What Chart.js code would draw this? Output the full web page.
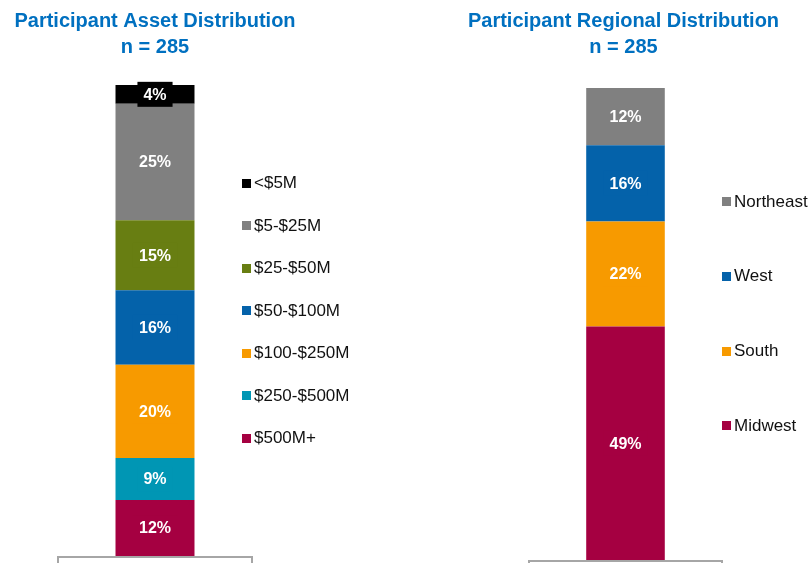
<!DOCTYPE html>
<html>
<head>
<meta charset="utf-8">
<script src="https://cdn.jsdelivr.net/npm/chart.js@4"></script>
<style>
  html, body { margin: 0; padding: 0; background: #ffffff; }
  #wrap { position: relative; width: 809px; height: 563px; overflow: hidden; }
  canvas { position: absolute; top: 0; }
  .legend { position: absolute; font-family: "Liberation Sans", Arial, sans-serif; font-size: 17px; color: #111; }
  .item { position: absolute; white-space: nowrap; display: flex; align-items: center; height: 20px; }
  .sw { width: 9px; height: 9px; display: inline-block; }
</style>
</head>
<body>
<div id="wrap">
  <canvas id="c1" width="404" height="563" style="left:0"></canvas>
  <canvas id="c2" width="405" height="563" style="left:404px"></canvas>
  <div id="leg1" class="legend"></div>
  <div id="leg2" class="legend"></div>
</div>
<script>
// ---- Data (bottom of stack to top) ----
const assetCategories = ['$500M+', '$250-$500M', '$100-$250M', '$50-$100M', '$25-$50M', '$5-$25M', '<$5M'];
const assetValues = [12, 9, 20, 16, 15, 25, 4];
const assetColors = ['#A50041', '#0096B4', '#F79A00', '#0462AA', '#687E12', '#808080', '#000000'];

const regionCategories = ['Midwest', 'South', 'West', 'Northeast'];
const regionValues = [49, 22, 16, 12];
const regionColors = ['#A50041', '#F79A00', '#0462AA', '#808080'];

const assetTitle = ['Participant Asset Distribution', 'n = 285'];
const regionTitle = ['Participant Regional Distribution', 'n = 285'];

const FONT = "'Liberation Sans', Arial, sans-serif";

const labelPlugin = {
  id: 'segLabels',
  afterDatasetsDraw(chart) {
    const ctx = chart.ctx;
    ctx.save();
    ctx.font = 'bold 16px ' + FONT;
    ctx.textAlign = 'center';
    ctx.textBaseline = 'middle';
    chart.data.datasets.forEach((ds, i) => {
      const el = chart.getDatasetMeta(i).data[0];
      const cy = (el.y + el.base) / 2;
      const txt = ds.data[0] + '%';
      const w = ctx.measureText(txt).width + 12;
      ctx.fillStyle = ds.backgroundColor;
      ctx.fillRect(el.x - w / 2, cy - 12.5, w, 25);
      ctx.fillStyle = '#ffffff';
      ctx.fillText(txt, el.x, cy + 1);
    });
    ctx.restore();
  }
};

const boxPlugin = {
  id: 'axisBox',
  afterDraw(chart) {
    const a = chart.chartArea;
    const ctx = chart.ctx;
    ctx.save();
    ctx.strokeStyle = '#A6A6A6';
    ctx.lineWidth = 2;
    ctx.strokeRect(a.left + 1, a.bottom + 1, a.right - a.left - 2, 40);
    ctx.restore();
  }
};

const titlePlugin = {
  id: 'twoLineTitle',
  afterDraw(chart, args, opts) {
    const a = chart.chartArea;
    const ctx = chart.ctx;
    ctx.save();
    ctx.font = 'bold 20px ' + FONT;
    ctx.fillStyle = '#0070C0';
    ctx.textAlign = 'center';
    ctx.textBaseline = 'alphabetic';
    const cx = (a.left + a.right) / 2 + (opts.dx || 0);
    opts.lines.forEach((line, k) => ctx.fillText(line, cx, 27 + k * 25.8));
    ctx.restore();
  }
};

function makeChart(id, cats, vals, colors, title, pad, dx) {
  const total = vals.reduce((s, v) => s + v, 0);
  return new Chart(document.getElementById(id), {
    type: 'bar',
    data: {
      labels: [''],
      datasets: cats.map((c, i) => ({
        label: c,
        data: [vals[i]],
        backgroundColor: colors[i],
        borderWidth: 0,
        barPercentage: 0.403,
        categoryPercentage: 1
      }))
    },
    options: {
      responsive: false,
      animation: false,
      devicePixelRatio: 1,
      layout: { padding: pad },
      plugins: {
        legend: { display: false },
        tooltip: { enabled: false },
        title: { display: false },
        twoLineTitle: { lines: title, dx: dx }
      },
      scales: {
        x: { display: false, stacked: true },
        y: { display: false, stacked: true, min: 0, max: total }
      }
    },
    plugins: [labelPlugin, boxPlugin, titlePlugin]
  });
}

makeChart('c1', assetCategories, assetValues, assetColors, assetTitle,
  { top: 85, left: 57, right: 151, bottom: 7 }, 0);
makeChart('c2', regionCategories, regionValues, regionColors, regionTitle,
  { top: 88, left: 124, right: 86, bottom: 3 }, -2);

function buildLegend(elId, cats, colors, x, y0, step) {
  const el = document.getElementById(elId);
  const n = cats.length;
  for (let k = 0; k < n; k++) {
    const i = n - 1 - k; // top of stack first
    const it = document.createElement('div');
    it.className = 'item';
    it.style.left = x + 'px';
    it.style.top = (y0 + k * step - 10) + 'px';
    const sw = document.createElement('span');
    sw.className = 'sw';
    sw.style.background = colors[i];
    sw.style.marginRight = '3px';
    const t = document.createElement('span');
    t.textContent = cats[i];
    it.appendChild(sw);
    it.appendChild(t);
    el.appendChild(it);
  }
}
buildLegend('leg1', assetCategories, assetColors, 242, 183, 42.5);
buildLegend('leg2', regionCategories, regionColors, 722, 201.5, 74.8);
</script>
</body>
</html>
